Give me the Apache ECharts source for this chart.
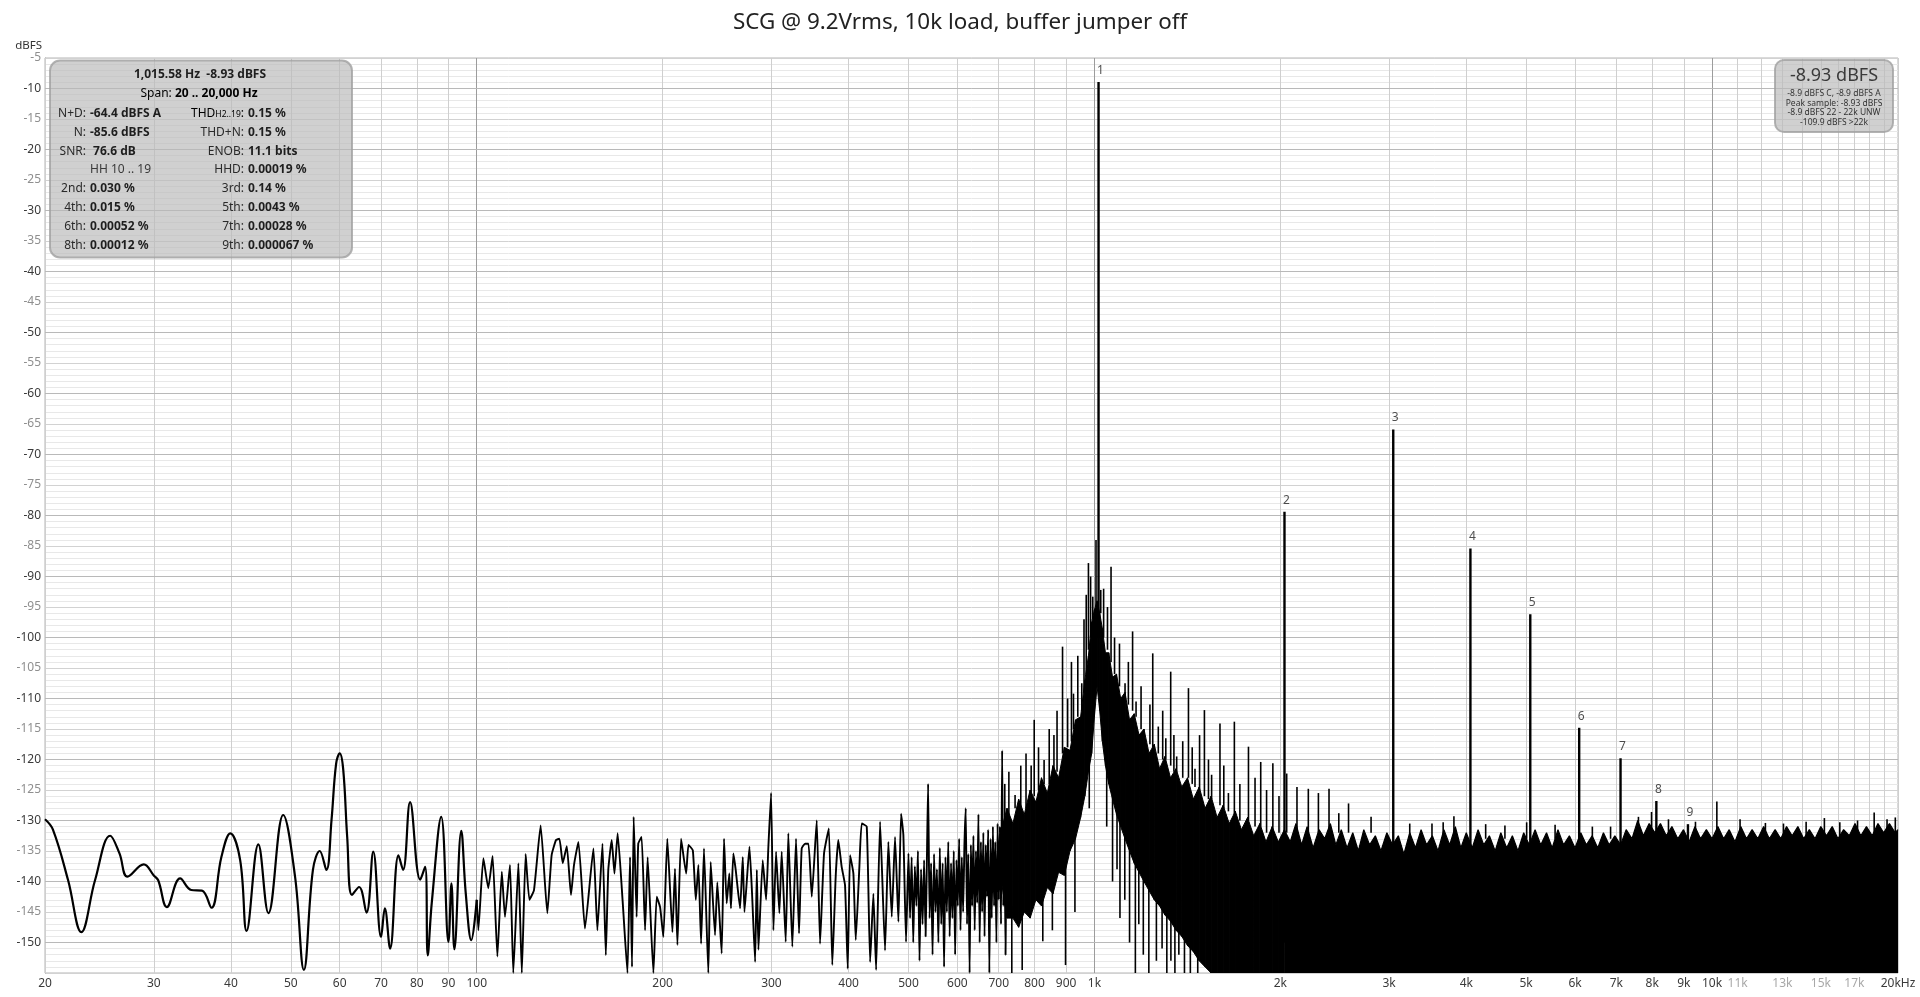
<!DOCTYPE html>
<html><head><meta charset="utf-8">
<script src="https://cdn.jsdelivr.net/npm/echarts@6/dist/echarts.min.js"></script>
<style>html,body{margin:0;padding:0;background:#fff}#c{width:1920px;height:997px}</style>
</head><body><div id="c"></div>
<script>
const FONT = "'Noto Sans', 'Open Sans', sans-serif";
const chartTitle = 'SCG @ 9.2Vrms, 10k load, buffer jumper off';

// [Hz, dBFS] low-frequency trace (20-100 Hz)
const lowSpectrum = [[20,-129.8],[20.6,-131.5],[21.8,-139.8],[22.9,-148.3],[24.1,-139.8],[25.5,-132.5],[26.4,-135.4],[27.2,-139.2],[28.9,-137.2],[30,-139],[30.5,-139.8],[31.5,-144.2],[33.1,-139.5],[34.5,-141.4],[35.9,-141.5],[37.2,-144.3],[38.6,-136],[39.9,-132.1],[41.4,-136.5],[42.4,-148.1],[44.3,-133.9],[46,-145.2],[48.6,-129.1],[50.8,-139.2],[52.5,-154.5],[54.3,-138.1],[55.7,-135],[57.1,-138.1],[58.2,-129.9],[59.2,-120.7],[60,-119],[60.8,-121.7],[61.7,-132.7],[62.8,-142.2],[64.5,-140.9],[66.3,-145.1],[68,-135.1],[70,-149.1],[71,-144.4],[72.4,-151],[74.7,-135.7],[76,-138.1],[78,-127],[81,-139.7],[82.5,-137.6],[83.3,-152.1],[84.6,-143.3],[87.6,-129.4],[90,-149.9],[91,-140.3],[92,-151.1],[94.4,-131.7],[96,-142],[98,-149.6],[100,-143]];

// [Hz, dBFS] trace 100-720 Hz
const midSpectrum = [[100,-143],[100.6,-148],[102.5,-136.2],[104.4,-141.1],[106.1,-135.8],[108,-152.3],[109.8,-138.4],[111.1,-145.8],[113.2,-137.3],[114.6,-155],[116.8,-137],[118.3,-155],[120,-135.5],[121.7,-143],[123.8,-141.4],[126.9,-130.8],[130.1,-145.2],[132.2,-135.7],[134.4,-133.2],[136.1,-133],[137.8,-137],[139.9,-134.2],[142.1,-142.2],[143.7,-137.3],[146.1,-133.5],[149.7,-147.7],[154.5,-134.6],[156.8,-148],[159.8,-133.8],[161.8,-152.1],[163.3,-138.1],[165.4,-133.2],[167.1,-138.7],[169.1,-132.1],[172.3,-143.3],[175.4,-155],[177.1,-136],[178.4,-154],[179.5,-129.4],[181.5,-145.8],[182.6,-133.8],[184.9,-132.7],[187.3,-148],[189.1,-136],[193.2,-155],[195.6,-142.5],[198.1,-144.2],[200.5,-149.1],[203.5,-133],[207.4,-148.3],[209.4,-137.9],[211.3,-150.4],[214.2,-133],[218.3,-138.7],[220.2,-134],[223.8,-134.9],[226.3,-143],[228.5,-137.3],[230.8,-150.2],[233.3,-134.6],[237.1,-155],[239.2,-136.8],[243.1,-148.8],[245.2,-140.1],[249.2,-151.8],[251.4,-133],[253.9,-143.6],[256.4,-138.7],[258,-144.4],[260.3,-135.4],[262.6,-138.1],[266.9,-144.4],[269.6,-136],[271.3,-145],[276.4,-134.3],[279.1,-142],[282.3,-153.2],[284.1,-138.1],[285.8,-151.2],[290.4,-136.5],[294.1,-143],[296.6,-134.3],[299.6,-125.5],[302.2,-148],[305.2,-135.1],[309,-145.2],[311.7,-135.1],[316.4,-149.9],[319.5,-132.1],[324.3,-150.7],[328.8,-133],[332.5,-148.5],[335.8,-134.6],[340.1,-133.8],[344.4,-133.8],[348.7,-142.5],[355.2,-130],[359.6,-150.2],[365,-135.4],[371.6,-131.3],[376.4,-153.7],[381.2,-139.2],[384.9,-133.2],[389.8,-137.6],[394.7,-140.6],[398.7,-154.3],[402.2,-135.7],[407.2,-138.7],[410.8,-149.6],[416.4,-137.6],[420.1,-130.5],[428,-131],[433.4,-153.2],[438.7,-142],[443.2,-154.5],[449.8,-130.2],[458.2,-151.3],[463.9,-133.5],[469.8,-145.8],[475.6,-132.7],[481.6,-146.6],[486.4,-128.9],[490.6,-132.4],[495.5,-149.9],[500,-135.4],
[503,-146],[506,-136],[509,-150],[512,-137.5],[515,-144],[518,-135],[521,-153],[524,-138],[527,-147],[530,-136.5],[533,-149],[536,-134],[538,-124],[541,-146],[544,-137],[547,-152],[550,-135.5],[553,-145],[556,-138],[559,-150],[562,-134.5],[565,-147],[568,-137],[571,-154],[574,-136],[577,-145],[580,-133.5],[583,-149],[586,-137],[589,-146],[592,-135],[595,-152],[598,-136.5],[601,-144],[604,-133],[607,-148],[610,-136],[613,-145],[616,-134],[619,-128],[622,-147],[625,-135.5],[628,-155],[631,-134],[634,-144],[637,-132.5],[640,-148],[643,-135],[646,-143.5],[649,-129],[652,-150],[655,-133.5],[658,-145],[661,-132],[664,-149],[667,-134],[670,-142.5],[673,-131.5],[676,-155],[679,-133],[682,-146],[685,-131],[688,-144],[691,-133.5],[694,-150],[697,-130.5],[700,-143],[703,-131],[706,-147],[709,-118.5],[712,-144],[715,-130],[718,-152],[721,-129.5]];

// [Hz, upper dBFS, lower dBFS] dense FFT mass around the fundamental (707 Hz - 2 kHz)
const noiseBand = [[707,-131.5,-140],[722,-128,-146],[738,-130.5,-146],[754,-126.5,-147.5],[770,-129,-145],[787,-125,-146],[804,-127,-143],[821,-123,-144],[839,-125.5,-141],[857,-121,-142],[875,-123,-138.5],[894,-118,-139],[913,-118.5,-135],[932,-113.5,-133],[950,-113,-129.5],[965,-107,-126],[978,-103,-122],[990,-97.5,-119],[1000,-95.5,-113],[1010,-94,-108],[1020,-96,-112],[1030,-98.5,-117],[1042,-102.5,-121],[1055,-102.5,-124],[1070,-106.5,-126.5],[1086,-106,-129],[1103,-110,-131],[1121,-109,-133],[1140,-113.5,-135],[1160,-112.5,-137],[1181,-116,-138.5],[1203,-115,-140],[1226,-119,-141.5],[1250,-117.5,-143],[1275,-121.5,-144],[1301,-119.5,-145.5],[1328,-123,-146.5],[1356,-121.5,-148],[1385,-124.5,-149],[1415,-123,-150.5],[1446,-126.5,-151.5],[1478,-124.5,-153],[1511,-128,-154],[1545,-126,-155],[1580,-129.5,-155],[1616,-127.5,-155],[1653,-130.5,-155],[1691,-128.5,-155],[1730,-131.5,-155],[1770,-129.5,-155],[1811,-132.5,-155],[1853,-130.5,-155],[1896,-133.5,-155],[1940,-131,-155],[1985,-133.5,-155],[2030,-131.5,-155]];

// [Hz, dBFS] top of the noise floor 2 kHz - 20 kHz (filled down to the floor)
const noiseFloor = [[2030,-131.5],[2075,-133.5],[2120,-130.5],[2165,-134],[2210,-131],[2260,-134.5],[2310,-131.5],[2360,-133],[2410,-130.5],[2460,-134],[2510,-131.5],[2565,-134.5],[2620,-132],[2675,-135],[2730,-131.5],[2790,-134],[2850,-132.5],[2910,-135],[2975,-132],[3040,-134],[3105,-132.5],[3170,-135.5],[3240,-132],[3310,-134.5],[3380,-131.5],[3450,-134],[3525,-132.5],[3600,-135],[3680,-131.5],[3760,-134],[3840,-131],[3920,-134.5],[4000,-132],[4090,-134.5],[4180,-131.5],[4270,-134],[4360,-132.5],[4455,-135],[4550,-132],[4650,-134.5],[4750,-132.5],[4850,-135],[4955,-132],[5060,-134],[5170,-131.5],[5280,-134],[5395,-132],[5510,-134.5],[5630,-131.5],[5750,-134],[5875,-132.5],[6000,-134.5],[6130,-132],[6260,-134],[6395,-132.5],[6530,-134.5],[6670,-132],[6815,-134],[6960,-132.5],[7110,-134],[7260,-131.5],[7420,-133],[7580,-130],[7740,-132.5],[7910,-130.5],[8080,-132],[8250,-130.5],[8430,-132.5],[8610,-131],[8800,-133],[8990,-131.5],[9180,-133.5],[9380,-131],[9580,-133],[9790,-131.5],[10000,-133],[10220,-131],[10440,-133],[10660,-131.5],[10890,-133.5],[11130,-131],[11370,-133],[11610,-131.5],[11860,-133],[12120,-131],[12380,-133],[12650,-131.5],[12920,-133],[13200,-131],[13480,-132.5],[13770,-131],[14070,-133],[14370,-131.5],[14680,-133],[15000,-131],[15320,-132.5],[15650,-131],[15990,-133],[16330,-131.5],[16680,-132.5],[17040,-130.5],[17410,-132.5],[17780,-131],[18170,-132.5],[18560,-130.5],[18960,-132],[19370,-130.5],[19790,-132],[20000,-131.5]];

// [Hz, from dBFS, to dBFS] isolated FFT bins sticking out of the noise
const noiseSpikes = [[716,-131,-124],[727,-129.5,-122],[744,-128,-125.8],[760,-128,-121],[775,-128,-119],[790,-126,-121],[799,-126,-113.5],[812,-125,-118],[829,-124,-120.1],[845,-124,-115],[860,-122,-116],[870,-122,-112],[888,-119,-101.5],[905,-118,-110],[918,-117,-104],[925,-115,-109.2],[940,-113,-103],[954,-112,-107.5],[962,-109,-97],[970,-106,-93],[978,-102,-87.8],[986,-100,-90],[994,-97,-93.3],[1006,-95,-84],[1024,-96,-92.2],[1035,-100,-92],[1050,-102,-95],[1064,-104,-88.4],[1078,-106,-100],[1098,-108,-101],[1121,-110,-107.5],[1135,-111,-104],[1153,-112,-99],[1168,-113,-110.5],[1190,-115,-108],[1230,-117.5,-111],[1243,-118,-102.6],[1269,-119,-114.6],[1290,-120,-112],[1305,-120,-116.5],[1329,-121,-105.6],[1345,-122,-116],[1359,-122,-119.5],[1390,-123,-117],[1420,-123,-108.3],[1440,-124,-118],[1455,-124.5,-121.5],[1480,-125,-116],[1507,-126,-111.9],[1530,-126.5,-120],[1548,-126.5,-122.5],[1597,-127.5,-114.1],[1620,-128,-121],[1648,-128.5,-125.5],[1685,-129,-113.8],[1720,-130,-124],[1776,-130,-117.9],[1820,-131,-123],[1859,-131,-120.4],[1900,-132,-125],[1945,-132,-120.6],[1990,-132,-126],[2048,-132,-122.3],[2128,-132,-124.5],[2220,-132,-124.8],[2305,-132,-125.5],[2398,-132,-124.8],[2487,-132,-128.8],[2579,-132,-127.2],[2805,-132,-129.4],[3240,-133,-130.5],[3520,-133,-130.5],[3670,-133,-130.3],[3820,-133,-129.3],[4300,-133,-130.6],[4620,-133,-130.8],[5010,-133,-130.3],[5570,-133,-130.7],[6400,-133,-131],[6850,-133,-131],[7600,-133,-129.4],[7980,-133,-128.6],[8500,-133,-129.8],[9400,-133,-130.2],[10180,-133,-126.9],[11100,-133,-129.8],[12200,-133,-130.4],[13050,-133,-130.5],[14200,-133,-130.2],[15200,-133,-129.6],[16100,-133,-130.3],[17200,-133,-130],[18300,-133,-128.7],[19200,-133,-129.8],[19800,-133,-129.5],
[735,-144,-155],[764,-145,-154.5],[825,-142,-149.8],[855,-140,-148],[898,-137,-153.7],[930,-131,-145],[981,-120,-128],[1047,-120,-131],[1070,-126,-140],[1088,-127,-138],[1100,-130,-146],[1120,-131,-143],[1140,-134,-150],[1165,-136,-155],[1180,-136,-147],[1200,-139,-152],[1225,-140,-155],[1260,-142,-153],[1287,-143,-151],[1310,-144,-155],[1330,-145,-153],[1350,-146,-155],[1370,-147,-152],[1399,-148,-155],[1430,-149,-155],[1470,-151,-155]];

// harmonics: [Hz, base dBFS, peak dBFS]
const harmonics = [[1015.58,-100,-8.93],[2031.2,-150,-79.4],[3046.7,-150,-65.9],[4062.3,-150,-85.4],[5077.9,-150,-96.2],[6093.5,-150,-114.8],[7109.1,-150,-119.8],[8124.6,-150,-126.8],[9140.2,-150,-130.6]];
const harmonicLabels = ['1','2','3','4','5','6','7','8','9'];

// axis grid / labels
const xGridFreqs = [20,30,40,50,60,70,80,90,100,200,300,400,500,600,700,800,900,1000,2000,3000,4000,5000,6000,7000,8000,9000,10000,11000,12000,13000,14000,15000,16000,17000,18000,19000,20000];
const xGridLabels = ['20','30','40','50','60','70','80','90','100','200','300','400','500','600','700','800','900','1k','2k','3k','4k','5k','6k','7k','8k','9k','10k','11k','','13k','','15k','','17k','','','20kHz'];
const xFaintLabels = ['11k','13k','15k','17k'];
const xDecadeFreqs = [100,1000,10000];
const yMajorDb = [-150,-140,-130,-120,-110,-100,-90,-80,-70,-60,-50,-40,-30,-20,-10];

// info panels
const infoHead = '1,015.58 Hz  -8.93 dBFS';
const infoSpan = ['Span: ', '20 .. 20,000 Hz'];
const infoLeftLabels = ['N+D:', 'N:', 'SNR:', '', '2nd:', '4th:', '6th:', '8th:'];
const infoLeftValues = ['-64.4 dBFS A', '-85.6 dBFS', ' 76.6 dB', 'HH 10 .. 19', '0.030 %', '0.015 %', '0.00052 %', '0.00012 %'];
const infoRightLabels = ['THD', 'THD+N:', 'ENOB:', 'HHD:', '3rd:', '5th:', '7th:', '9th:'];
const infoRightValues = ['0.15 %', '0.15 %', '11.1 bits', '0.00019 %', '0.14 %', '0.0043 %', '0.00028 %', '0.000067 %'];
const peakBig = '-8.93 dBFS';
const peakLines = ['-8.9 dBFS C, -8.9 dBFS A', 'Peak sample: -8.93 dBFS', '-8.9 dBFS 22 - 22k UNW', '-109.9 dBFS >22k'];

const chart = echarts.init(document.getElementById('c'), null, {renderer: 'canvas'});

const xLines = xGridFreqs.map((f, i) => {
  const lab = xGridLabels[i];
  const dark = xDecadeFreqs.indexOf(f) >= 0;
  return {
    xAxis: f,
    lineStyle: {color: dark ? '#9c9c9c' : '#cfcfcf', width: 1, type: 'solid'},
    label: {show: lab !== '', position: 'start', distance: 5, formatter: lab,
      color: xFaintLabels.indexOf(lab) >= 0 ? '#a8a8a8' : '#3a3a3a', fontSize: 12, fontFamily: FONT}
  };
});
const yLines = yMajorDb.map(v => ({yAxis: v, lineStyle: {color: '#b9b9b9', width: 1, type: 'solid'}, label: {show: false}}));

const graphics = [];
graphics.push({type: 'rect', shape: {x: 50, y: 60.5, width: 302, height: 197, r: 10},
  style: {fill: 'rgba(185,185,185,0.68)', stroke: 'rgba(160,160,160,0.8)', lineWidth: 2}, z: 100});
graphics.push({type: 'text', x: 200, y: 75, z: 101, style: {text: infoHead, font: 'bold 12px ' + FONT, fill: '#1e1e1e', align: 'center', verticalAlign: 'middle'}});
graphics.push({type: 'text', x: 199, y: 94, z: 101, style: {text: '{n|' + infoSpan[0] + '}{b|' + infoSpan[1] + '}', align: 'center', verticalAlign: 'middle',
  rich: {n: {fontSize: 12, fontFamily: FONT, color: '#2a2a2a'}, b: {fontSize: 12, fontFamily: FONT, fontWeight: 'bold', color: '#1e1e1e'}}}});
infoLeftLabels.forEach((lab, k) => {
  const y = 113.3 + k * 18.9;
  if (lab) graphics.push({type: 'text', x: 86, y: y, z: 101, style: {text: lab, font: '12px ' + FONT, fill: '#2a2a2a', align: 'right', verticalAlign: 'middle'}});
  const plain = lab === '';
  graphics.push({type: 'text', x: 90, y: y, z: 101, style: {text: infoLeftValues[k], font: (plain ? '' : 'bold ') + '12px ' + FONT, fill: plain ? '#3a3a3a' : '#1e1e1e', align: 'left', verticalAlign: 'middle'}});
  const rl = infoRightLabels[k];
  if (k === 0) {
    graphics.push({type: 'text', x: 244, y: y, z: 101, style: {text: '{n|' + rl + '}{s|H2..19}{n|:}', align: 'right', verticalAlign: 'middle',
      rich: {n: {fontSize: 12, fontFamily: FONT, color: '#2a2a2a'}, s: {fontSize: 8.5, fontFamily: FONT, color: '#2a2a2a', padding: [3, 0, 0, 0]}}}});
  } else {
    graphics.push({type: 'text', x: 244, y: y, z: 101, style: {text: rl, font: '12px ' + FONT, fill: '#2a2a2a', align: 'right', verticalAlign: 'middle'}});
  }
  graphics.push({type: 'text', x: 248, y: y, z: 101, style: {text: infoRightValues[k], font: 'bold 12px ' + FONT, fill: '#1e1e1e', align: 'left', verticalAlign: 'middle'}});
});
graphics.push({type: 'rect', shape: {x: 1775, y: 60, width: 118, height: 72, r: 9},
  style: {fill: 'rgba(185,185,185,0.68)', stroke: 'rgba(160,160,160,0.8)', lineWidth: 2}, z: 100});
graphics.push({type: 'text', x: 1834, y: 76, z: 101, style: {text: peakBig, font: '18px ' + FONT, fill: '#3a3a3a', align: 'center', verticalAlign: 'middle'}});
peakLines.forEach((t, k) => {
  graphics.push({type: 'text', x: 1834, y: 93.5 + k * 9.7, z: 101, style: {text: t, font: '8.5px ' + FONT, fill: '#333', align: 'center', verticalAlign: 'middle'}});
});

const option = {
  animation: false,
  backgroundColor: '#ffffff',
  title: {text: chartTitle, left: 'center', top: 7, textStyle: {fontFamily: FONT, fontSize: 22.4, fontWeight: 'normal', color: '#222'}},
  grid: {left: 45, top: 58, width: 1853, height: 915, show: true, borderColor: '#b4b4b4', borderWidth: 1, backgroundColor: 'transparent', containLabel: false, outerBoundsMode: 'none'},
  xAxis: [{type: 'log', logBase: 10, min: 20, max: 20000,
    axisLine: {show: false}, axisTick: {show: false}, axisLabel: {show: false}, splitLine: {show: false}}],
  yAxis: [{type: 'value', min: -155, max: -5, interval: 5,
    name: 'dBFS', nameLocation: 'end', nameGap: 6,
    nameTextStyle: {align: 'right', color: '#333', fontSize: 11.5, fontFamily: FONT, padding: [0, 3, 0, 0]},
    axisLine: {show: true, lineStyle: {color: '#a8a8a8'}},
    axisTick: {show: false},
    axisLabel: {margin: 4, fontSize: 12, fontFamily: FONT,
      color: (v) => (Number(v) % 10 === 0 ? '#3a3a3a' : '#8f8f8f'),
      formatter: (v) => (Number(v) === -155 ? '' : String(v))},
    splitLine: {show: true, lineStyle: {color: '#d2d2d2'}},
    minorTick: {show: false, splitNumber: 5},
    minorSplitLine: {show: true, lineStyle: {color: '#e8e8e8'}}}],
  graphic: graphics,
  series: [
    {type: 'line', name: 'grid', data: [], z: 1, silent: true,
      markLine: {silent: true, z: 1, symbol: ['none', 'none'], animation: false, label: {show: false}, data: xLines.concat(yLines)}},
    {type: 'custom', name: 'band', coordinateSystem: 'cartesian2d', z: 3, silent: true, clip: true,
      data: noiseBand, encode: {x: 0, y: [1, 2]},
      renderItem: (params, api) => {
        const i = params.dataIndex;
        if (i >= noiseBand.length - 1) return {type: 'group', children: []};
        const a = noiseBand[i], b = noiseBand[i + 1];
        const pts = [api.coord([a[0], a[1]]), api.coord([b[0], b[1]]), api.coord([b[0], b[2]]), api.coord([a[0], a[2]])];
        return {type: 'polygon', shape: {points: pts}, style: {fill: '#000', stroke: '#000', lineWidth: 1}};
      }},
    {type: 'line', name: 'floor', data: noiseFloor, z: 3, silent: true, symbol: 'none',
      lineStyle: {color: '#000', width: 1.2}, areaStyle: {color: '#000', opacity: 1, origin: 'start'}},
    {type: 'line', name: 'low', data: lowSpectrum, z: 4, silent: true, symbol: 'none', smooth: 0.4,
      lineStyle: {color: '#000', width: 2.2}},
    {type: 'line', name: 'mid', data: midSpectrum, z: 4, silent: true, symbol: 'none', smooth: 0.15,
      lineStyle: {color: '#000', width: 1.9}},
    {type: 'custom', name: 'spikes', coordinateSystem: 'cartesian2d', z: 5, silent: true, clip: true,
      data: noiseSpikes, encode: {x: 0, y: [1, 2]},
      renderItem: (params, api) => {
        const p = api.coord([api.value(0), api.value(1)]);
        const q = api.coord([api.value(0), api.value(2)]);
        return {type: 'line', shape: {x1: p[0], y1: p[1], x2: q[0], y2: q[1]}, style: {stroke: '#000', lineWidth: 1.6}};
      }},
    {type: 'custom', name: 'harmonics', coordinateSystem: 'cartesian2d', z: 6, silent: true, clip: true,
      data: harmonics, encode: {x: 0, y: [1, 2]},
      renderItem: (params, api) => {
        const p = api.coord([api.value(0), api.value(1)]);
        const q = api.coord([api.value(0), api.value(2)]);
        return {type: 'line', shape: {x1: p[0], y1: p[1], x2: q[0], y2: q[1]}, style: {stroke: '#000', lineWidth: 2.4}};
      }},
    {type: 'scatter', name: 'harmonic numbers', z: 7, silent: true,
      data: harmonics.map(h => [h[0], h[2]]), symbolSize: 1, itemStyle: {color: 'rgba(0,0,0,0)'},
      label: {show: true, position: 'top', distance: 5, offset: [2, 0], formatter: (p) => harmonicLabels[p.dataIndex],
        color: '#222', fontSize: 12, fontFamily: FONT}}
  ]
};
chart.setOption(option);
</script></body></html>
